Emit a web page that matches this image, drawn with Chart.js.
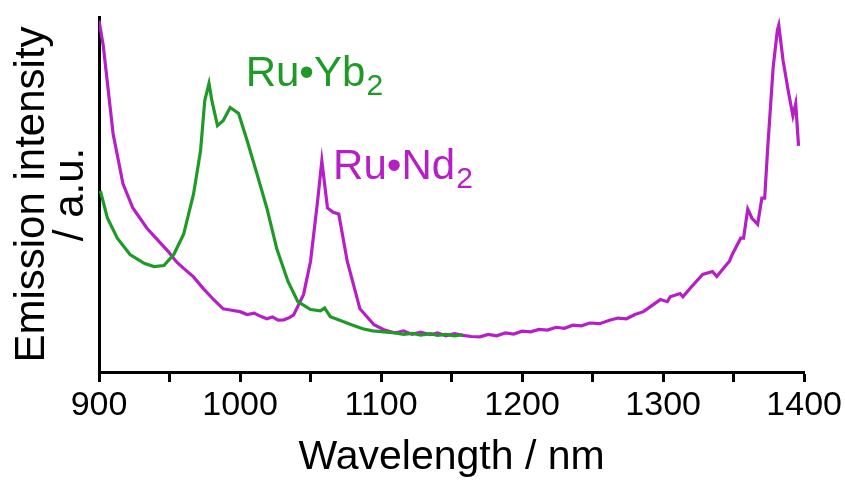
<!DOCTYPE html>
<html>
<head>
<meta charset="utf-8">
<script src="https://cdn.jsdelivr.net/npm/chart.js@4/dist/chart.umd.min.js"></script>
<style>
  html, body { margin: 0; padding: 0; background: #fff; }
  #wrap { width: 845px; height: 482px; }
</style>
</head>
<body>
<div id="wrap"><canvas id="emission-chart"></canvas></div>
<script>
// Ru•Yb2 emission (nm, a.u.)
const ybWavelength = [901, 906, 913, 922, 932, 939, 946, 953, 960, 967, 972, 975, 978, 980, 984, 988, 993, 999,
  1005, 1012, 1019, 1026, 1034, 1041, 1050, 1057, 1060, 1064, 1073, 1080, 1087, 1094, 1102, 1110, 1116, 1122,
  1128, 1135, 1140, 1146, 1152, 1158];
const ybIntensity = [51.0, 43.3, 37.7, 33.1, 30.6, 29.7, 30.0, 33.1, 38.8, 50.1, 62.3, 76.5, 81.3, 76.5, 69.4, 70.8, 74.5, 72.8,
  65.2, 55.8, 46.2, 34.8, 25.5, 19.8, 17.6, 17.2, 18.0, 15.6, 14.2, 13.2, 12.2, 11.6, 11.3, 11.0, 10.6, 10.9,
  10.4, 10.8, 10.3, 10.6, 10.2, 10.5];

// Ru•Nd2 emission (nm, a.u.)
const ndWavelength = [900, 903, 906, 910, 917, 924, 934, 942, 949, 955, 960, 967, 974, 981, 988, 994, 1000, 1005,
  1010, 1015, 1019, 1023, 1027, 1031, 1035, 1038, 1045, 1050, 1055, 1058, 1062, 1066, 1070, 1076, 1085, 1095,
  1102, 1110, 1116, 1122, 1128, 1135, 1140, 1146, 1152, 1158, 1164, 1170, 1176, 1182, 1188, 1194, 1200, 1206,
  1212, 1218, 1224, 1230, 1236, 1242, 1248, 1255, 1262, 1268, 1274, 1280, 1286, 1291, 1298, 1303, 1305, 1312,
  1314, 1319, 1328, 1335, 1338, 1345, 1347, 1349, 1355, 1357, 1360, 1363, 1367, 1370, 1372, 1374, 1378, 1381,
  1382, 1385, 1389, 1392, 1394, 1396];
const ndIntensity = [99.0, 92.0, 81.3, 67.1, 53.0, 46.2, 40.5, 37.0, 34.0, 31.0, 29.2, 26.8, 23.5, 20.5, 17.8, 17.4, 17.0, 16.2,
  16.6, 15.6, 15.0, 15.5, 14.6, 14.7, 15.3, 16.1, 21.8, 31.2, 48.2, 59.5, 46.2, 45.0, 44.5, 31.2, 17.8, 13.3,
  11.9, 11.0, 11.6, 10.6, 11.2, 10.5, 11.0, 10.2, 10.8, 10.3, 10.0, 9.9, 10.6, 10.2, 11.0, 10.7, 11.5, 11.3,
  12.0, 11.8, 12.6, 12.3, 13.2, 13.0, 13.8, 13.6, 14.6, 15.2, 15.0, 16.2, 17.0, 18.4, 20.4, 19.8, 21.2, 22.1,
  21.2, 23.5, 27.5, 28.3, 26.9, 30.3, 31.2, 33.1, 37.7, 37.7, 45.9, 43.3, 41.6, 49.0, 49.0, 62.3, 85.8, 96.3,
  97.7, 87.8, 78.5, 72.2, 75.6, 63.7];

const xTicks = [900, 1000, 1100, 1200, 1300, 1400];

const green = '#1f9a26';
const magenta = '#b61fc6';
const font = '"Liberation Sans", Arial, sans-serif';

// series labels drawn next to the peaks, anchored in data coordinates
const seriesLabels = [
  { main: 'Ru•Yb', sub: '2', x: 1004, y: 80.7, color: green },
  { main: 'Ru•Nd', sub: '2', x: 1066, y: 54.4, color: magenta }
];

const labelPlugin = {
  id: 'seriesLabels',
  afterDatasetsDraw(chart) {
    const ctx = chart.ctx;
    const xs = chart.scales.x, ys = chart.scales.y;
    ctx.save();
    ctx.textBaseline = 'alphabetic';
    seriesLabels.forEach(l => {
      const px = xs.getPixelForValue(l.x);
      const py = ys.getPixelForValue(l.y);
      ctx.fillStyle = l.color;
      ctx.font = '42px ' + font;
      ctx.fillText(l.main, px, py);
      const w = ctx.measureText(l.main).width;
      ctx.font = '30px ' + font;
      ctx.fillText(l.sub, px + w + 1, py + 9);
    });
    ctx.restore();
  }
};

new Chart(document.getElementById('emission-chart'), {
  type: 'line',
  data: {
    datasets: [
      {
        label: 'Ru•Yb2',
        data: ybWavelength.map((x, i) => ({ x: x, y: ybIntensity[i] })),
        borderColor: green,
        borderWidth: 3.2,
        pointRadius: 0,
        tension: 0
      },
      {
        label: 'Ru•Nd2',
        data: ndWavelength.map((x, i) => ({ x: x, y: ndIntensity[i] })),
        borderColor: magenta,
        borderWidth: 3.2,
        pointRadius: 0,
        tension: 0
      }
    ]
  },
  options: {
    responsive: true,
    maintainAspectRatio: false,
    animation: false,
    layout: { padding: { left: 12, right: 40, top: 17, bottom: 0 } },
    plugins: {
      legend: { display: false },
      tooltip: { enabled: false }
    },
    scales: {
      x: {
        type: 'linear',
        min: 900,
        max: 1400,
        afterFit: s => { s.height = 110; },
        afterBuildTicks: s => {
          const t = [];
          for (let v = 900; v <= 1400; v += 50) t.push({ value: v });
          s.ticks = t;
        },
        ticks: {
          color: '#000',
          padding: 3,
          maxRotation: 0,
          autoSkip: false,
          font: { family: font, size: 34 },
          callback: v => xTicks.includes(v) ? String(v) : ''
        },
        grid: {
          drawOnChartArea: false,
          drawTicks: true,
          tickLength: 10,
          tickWidth: 3,
          color: '#000'
        },
        border: { color: '#000', width: 3 },
        title: {
          display: true,
          text: 'Wavelength / nm',
          color: '#000',
          padding: { top: 2, bottom: 0 },
          font: { family: font, size: 41 }
        }
      },
      y: {
        min: 0,
        max: 100,
        afterFit: s => { s.width = 87; },
        ticks: { display: false },
        grid: { display: false },
        border: { color: '#000', width: 3 },
        title: {
          display: true,
          text: ['Emission intensity', '/ a.u.'],
          color: '#000',
          padding: { top: 0, bottom: 0 },
          font: { family: font, size: 42, lineHeight: 0.95 }
        }
      }
    }
  },
  plugins: [labelPlugin]
});
</script>
</body>
</html>
